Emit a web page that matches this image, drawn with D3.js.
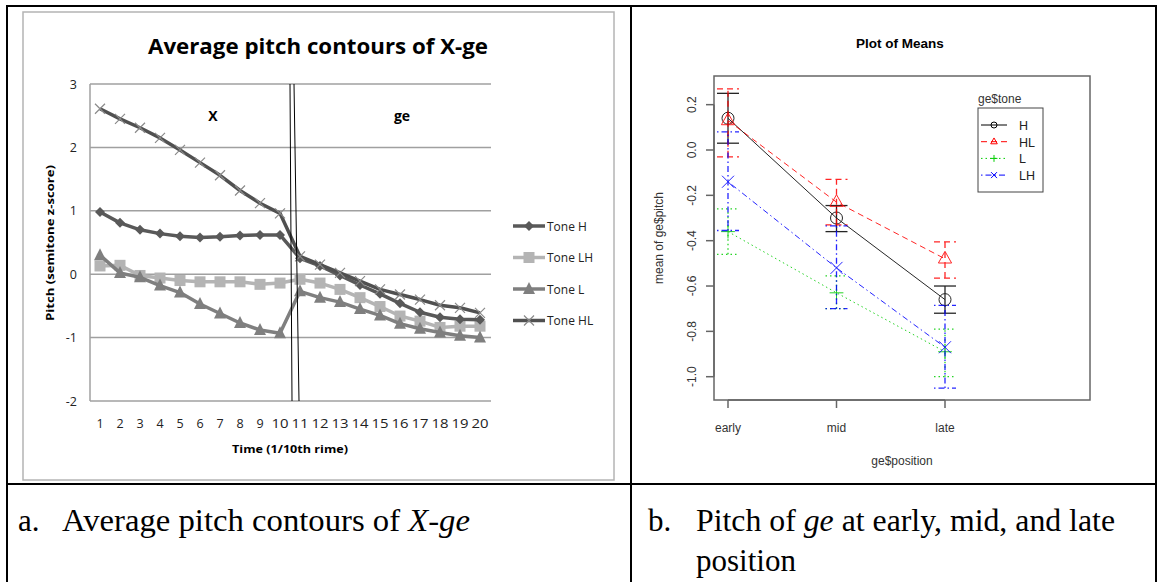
<!DOCTYPE html>
<html><head><meta charset="utf-8">
<script src="https://cdn.jsdelivr.net/npm/d3@7"></script>
<style>body{margin:0;background:#fff}svg{display:block}</style>
</head><body>
<svg id="c" width="1158" height="582"></svg>
<script>
// ---------- Panel a data ----------
const timePoints = [1,2,3,4,5,6,7,8,9,10,11,12,13,14,15,16,17,18,19,20];
const toneH  = [0.98,0.81,0.70,0.64,0.60,0.58,0.59,0.61,0.62,0.62,0.25,0.13,-0.02,-0.17,-0.31,-0.46,-0.60,-0.68,-0.71,-0.72];
const toneLH = [0.13,0.14,-0.02,-0.06,-0.10,-0.12,-0.12,-0.12,-0.16,-0.14,-0.08,-0.14,-0.24,-0.37,-0.51,-0.66,-0.74,-0.84,-0.82,-0.82];
const toneL  = [0.30,0.02,-0.05,-0.18,-0.29,-0.47,-0.62,-0.77,-0.88,-0.93,-0.27,-0.37,-0.44,-0.55,-0.65,-0.78,-0.86,-0.92,-0.97,-1.00];
const toneHL = [2.61,2.45,2.31,2.15,1.96,1.76,1.56,1.32,1.12,0.96,0.28,0.15,0.02,-0.11,-0.24,-0.32,-0.40,-0.49,-0.53,-0.61];
const yTicksA = [-2,-1,0,1,2,3];

// ---------- Panel b data ----------
const positions = ["early","mid","late"];
const tonesB = ["H","HL","L","LH"];
const meanH  = [0.14,-0.30,-0.66];
const loH    = [0.03,-0.36,-0.72];
const hiH    = [0.25,-0.245,-0.60];
const meanHL = [0.13,-0.23,-0.48];
const loHL   = [-0.03,-0.33,-0.565];
const hiHL   = [0.27,-0.13,-0.405];
const meanL  = [-0.36,-0.63,-0.89];
const loL    = [-0.46,-0.70,-1.00];
const hiL    = [-0.26,-0.555,-0.79];
const meanLH = [-0.14,-0.52,-0.87];
const loLH   = [-0.355,-0.70,-1.05];
const hiLH   = [0.08,-0.335,-0.685];
const yTicksB = [0.2,0.0,-0.2,-0.4,-0.6,-0.8,-1.0];

const svg = d3.select("#c");
svg.append("rect").attr("width",1158).attr("height",582).attr("fill","#fff");

// ---------- table frame ----------
const T = svg.append("g").attr("stroke","#000").attr("stroke-width",2).attr("fill","none");
T.append("line").attr("x1",7).attr("y1",6).attr("x2",1157).attr("y2",6);
T.append("line").attr("x1",7).attr("y1",5).attr("x2",7).attr("y2",582);
T.append("line").attr("x1",1156).attr("y1",5).attr("x2",1156).attr("y2",582);
T.append("line").attr("x1",631).attr("y1",5).attr("x2",631).attr("y2",582);
T.append("line").attr("x1",7).attr("y1",484).attr("x2",1157).attr("y2",484);

// captions
const cap = svg.append("g").attr("font-family","'Liberation Serif','Times New Roman',serif").attr("font-size",31).attr("fill","#000");
cap.append("text").attr("x",18).attr("y",531).text("a.");
const ca = cap.append("text").attr("x",62).attr("y",531).attr("textLength",408).attr("lengthAdjust","spacingAndGlyphs");
ca.append("tspan").text("Average pitch contours of ");
ca.append("tspan").attr("font-style","italic").text("X-ge");
cap.append("text").attr("x",648).attr("y",531).text("b.");
const cb = cap.append("text").attr("x",696).attr("y",531).attr("textLength",419).attr("lengthAdjust","spacingAndGlyphs");
cb.append("tspan").text("Pitch of ");
cb.append("tspan").attr("font-style","italic").text("ge");
cb.append("tspan").text(" at early, mid, and late");
cap.append("text").attr("x",696).attr("y",571).text("position");

// ---------- Panel a ----------
const A = svg.append("g");
A.append("rect").attr("x",23).attr("y",12).attr("width",591).attr("height",468)
  .attr("fill","none").attr("stroke","#b4b4b4").attr("stroke-width",1.5);
A.append("text").attr("x",318).attr("y",54).attr("text-anchor","middle")
  .attr("font-family","'Open Sans',Lato,sans-serif").attr("font-weight","bold").attr("font-size",21)
  .attr("textLength",340).attr("lengthAdjust","spacingAndGlyphs").attr("fill","#000")
  .text("Average pitch contours of X-ge");

const xA = d3.scalePoint().domain(timePoints).range([100,480]);
const yA = d3.scaleLinear().domain([-2,3]).range([401,84]);
const fontA = "'Open Sans',Lato,sans-serif";

// gridlines
A.append("g").selectAll("line").data(yTicksA).join("line")
  .attr("x1",90).attr("x2",491).attr("y1",d=>yA(d)).attr("y2",d=>yA(d))
  .attr("stroke","#a0a0a0").attr("stroke-width",1.5);
A.append("line").attr("x1",90).attr("x2",90).attr("y1",yA(3)).attr("y2",yA(-2))
  .attr("stroke","#a0a0a0").attr("stroke-width",1.5);

// y tick labels
A.append("g").selectAll("text").data(yTicksA).join("text")
  .attr("x",77).attr("y",d=>yA(d)+4.5).attr("text-anchor","end")
  .attr("font-family",fontA).attr("font-size",12.5).attr("fill","#222").text(d=>d);
// x tick labels
A.append("g").selectAll("text").data(timePoints).join("text")
  .attr("x",d=>xA(d)).attr("y",428).attr("text-anchor","middle")
  .attr("font-family",fontA).attr("font-size",12.5).attr("fill","#222")
  .attr("textLength",d=>d>=10?17:null).attr("lengthAdjust","spacingAndGlyphs").text(d=>d);
// axis titles
A.append("text").attr("x",290).attr("y",453).attr("text-anchor","middle")
  .attr("font-family",fontA).attr("font-weight","bold").attr("font-size",11)
  .attr("textLength",116).attr("lengthAdjust","spacingAndGlyphs").text("Time (1/10th rime)");
A.append("text").attr("transform","translate(54,243) rotate(-90)").attr("text-anchor","middle")
  .attr("font-family",fontA).attr("font-weight","bold").attr("font-size",11)
  .attr("textLength",156).attr("lengthAdjust","spacingAndGlyphs").text("Pitch (semitone z-score)");
// region labels
A.append("text").attr("x",213).attr("y",121).attr("text-anchor","middle")
  .attr("font-family",fontA).attr("font-weight","bold").attr("font-size",14).text("X");
A.append("text").attr("x",402).attr("y",121).attr("text-anchor","middle")
  .attr("font-family",fontA).attr("font-weight","bold").attr("font-size",14).text("ge");

const seriesA = [
  {name:"Tone H", vals:toneH, color:"#595959", marker:"diamond", mcolor:"#595959"},
  {name:"Tone LH", vals:toneLH, color:"#b4b4b4", marker:"square", mcolor:"#b4b4b4"},
  {name:"Tone L", vals:toneL, color:"#7f7f7f", marker:"triangle", mcolor:"#7f7f7f"},
  {name:"Tone HL", vals:toneHL, color:"#505050", marker:"x", mcolor:"#8a8a8a"}
];
const lineA = d3.line().x((d,i)=>xA(timePoints[i])).y(d=>yA(d));
function markerA(g, type, x, y, color, s){
  if(type==="diamond") g.append("path").attr("d",`M${x},${y-s}L${x+s},${y}L${x},${y+s}L${x-s},${y}Z`).attr("fill",color);
  else if(type==="square") g.append("rect").attr("x",x-s).attr("y",y-s).attr("width",2*s).attr("height",2*s).attr("fill",color);
  else if(type==="triangle") g.append("path").attr("d",`M${x},${y-s-1}L${x+s},${y+s-1}L${x-s},${y+s-1}Z`).attr("fill",color);
  else g.append("path").attr("d",`M${x-s},${y-s}L${x+s},${y+s}M${x-s},${y+s}L${x+s},${y-s}`).attr("stroke",color).attr("stroke-width",1.2).attr("fill","none");
}
const msize = {diamond:5, square:5.5, triangle:6, x:5};
// draw order: LH, L, H, HL
[1,2,0,3].forEach(k=>{
  const s = seriesA[k];
  const g = A.append("g");
  g.append("path").attr("d",lineA(s.vals)).attr("fill","none").attr("stroke",s.color).attr("stroke-width",3.5).attr("stroke-linejoin","round");
  s.vals.forEach((v,i)=>markerA(g,s.marker,xA(timePoints[i]),yA(v),s.mcolor,msize[s.marker]));
});

// vertical double boundary lines
A.append("line").attr("x1",290).attr("y1",yA(3)).attr("x2",292).attr("y2",yA(-2)).attr("stroke","#000").attr("stroke-width",1);
A.append("line").attr("x1",294).attr("y1",yA(3)).attr("x2",299).attr("y2",yA(-2)).attr("stroke","#000").attr("stroke-width",1);

// legend
const legA = A.append("g");
seriesA.forEach((s,i)=>{
  const y = 226 + i*31.5;
  legA.append("line").attr("x1",513).attr("x2",545).attr("y1",y).attr("y2",y).attr("stroke",s.color).attr("stroke-width",3.5);
  markerA(legA,s.marker,529,y,s.mcolor,msize[s.marker]);
  legA.append("text").attr("x",547).attr("y",y+4.5).attr("font-family",fontA).attr("font-size",12)
    .attr("fill","#222").text(s.name);
});

// ---------- Panel b ----------
const B = svg.append("g");
const fontB = "'Liberation Sans',Arial,sans-serif";
const xB = d3.scalePoint().domain(positions).range([728,945]);
const yB = d3.scaleLinear().domain([0,-1]).range([150,376.7]);
const L0=714, R0=1090, T0=76, B0=400;

B.append("text").attr("x",900).attr("y",48).attr("text-anchor","middle")
  .attr("font-family",fontB).attr("font-weight","bold").attr("font-size",13.5).text("Plot of Means");
B.append("rect").attr("x",L0).attr("y",T0).attr("width",R0-L0).attr("height",B0-T0)
  .attr("fill","none").attr("stroke","#666").attr("stroke-width",1.5);

// y axis
const gy = B.append("g").attr("transform",`translate(${L0},0)`);
gy.append("line").attr("x1",0).attr("x2",0).attr("y1",yB(0.2)).attr("y2",yB(-1.0)).attr("stroke","#666").attr("stroke-width",1.5);
gy.selectAll("line.t").data(yTicksB).join("line").attr("class","t")
  .attr("x1",-8).attr("x2",0).attr("y1",d=>yB(d)).attr("y2",d=>yB(d)).attr("stroke","#666").attr("stroke-width",1.5);
gy.selectAll("text").data(yTicksB).join("text")
  .attr("transform",d=>`translate(-18,${yB(d)}) rotate(-90)`).attr("text-anchor","middle")
  .attr("font-family",fontB).attr("font-size",12).attr("fill","#333").text(d=>d3.format(".1f")(d).replace("−","-"));
B.append("text").attr("transform",`translate(663,${(T0+B0)/2}) rotate(-90)`).attr("text-anchor","middle")
  .attr("font-family",fontB).attr("font-size",12).attr("fill","#333").text("mean of ge$pitch");

// x axis
const gx = B.append("g").attr("transform",`translate(0,${B0})`);
gx.append("line").attr("x1",xB("early")).attr("x2",xB("late")).attr("y1",0).attr("y2",0).attr("stroke","#666").attr("stroke-width",1.5);
gx.selectAll("line.t").data(positions).join("line").attr("class","t")
  .attr("x1",d=>xB(d)).attr("x2",d=>xB(d)).attr("y1",0).attr("y2",8).attr("stroke","#666").attr("stroke-width",1.5);
gx.selectAll("text").data(positions).join("text")
  .attr("x",d=>xB(d)).attr("y",32).attr("text-anchor","middle")
  .attr("font-family",fontB).attr("font-size",12).attr("fill","#333").text(d=>d);
B.append("text").attr("x",902).attr("y",465).attr("text-anchor","middle")
  .attr("font-family",fontB).attr("font-size",12).attr("fill","#333").text("ge$position");

const seriesB = [
  {name:"H", mean:meanH, lo:loH, hi:hiH, color:"#000", dash:null, pch:"circle"},
  {name:"HL", mean:meanHL, lo:loHL, hi:hiHL, color:"#ff0000", dash:"6,4", pch:"triangle"},
  {name:"L", mean:meanL, lo:loL, hi:hiL, color:"#00cd00", dash:"1.5,3", pch:"plus"},
  {name:"LH", mean:meanLH, lo:loLH, hi:hiLH, color:"#0000ff", dash:"1.5,3,6,3", pch:"x"}
];
function pchB(g,type,x,y,color,s){
  if(type==="circle") g.append("circle").attr("cx",x).attr("cy",y).attr("r",s).attr("fill","none").attr("stroke",color).attr("stroke-width",1);
  else if(type==="triangle") g.append("path").attr("d",`M${x},${y-s*1.25}L${x+s*1.1},${y+s*0.7}L${x-s*1.1},${y+s*0.7}Z`).attr("fill","none").attr("stroke",color).attr("stroke-width",1);
  else if(type==="plus") g.append("path").attr("d",`M${x-s*1.15},${y}L${x+s*1.15},${y}M${x},${y-s*1.15}L${x},${y+s*1.15}`).attr("fill","none").attr("stroke",color).attr("stroke-width",1);
  else g.append("path").attr("d",`M${x-s},${y-s}L${x+s},${y+s}M${x-s},${y+s}L${x+s},${y-s}`).attr("fill","none").attr("stroke",color).attr("stroke-width",1);
}
const lineB = d3.line().x((d,i)=>xB(positions[i])).y(d=>yB(d));
seriesB.forEach(s=>{
  const g = B.append("g").attr("opacity",0.85);
  g.append("path").attr("d",lineB(s.mean)).attr("fill","none").attr("stroke",s.color).attr("stroke-width",1)
    .attr("stroke-dasharray",s.dash);
  positions.forEach((p,i)=>{
    const x = xB(p);
    g.append("line").attr("x1",x).attr("x2",x).attr("y1",yB(s.lo[i])).attr("y2",yB(s.hi[i]))
      .attr("stroke",s.color).attr("stroke-width",1.3).attr("stroke-dasharray",s.dash);
    [s.lo[i],s.hi[i]].forEach(v=>{
      g.append("line").attr("x1",x-11).attr("x2",x+11).attr("y1",yB(v)).attr("y2",yB(v))
        .attr("stroke",s.color).attr("stroke-width",1.3).attr("stroke-dasharray",s.dash);
    });
    pchB(g,s.pch,x,yB(s.mean[i]),s.color,6);
  });
});

// legend b
const LG = B.append("g");
LG.append("text").attr("x",978).attr("y",103).attr("font-family",fontB).attr("font-size",12).attr("fill","#333").text("ge$tone");
LG.append("rect").attr("x",978).attr("y",108).attr("width",65).attr("height",84).attr("fill","none").attr("stroke","#444").attr("stroke-width",1);
seriesB.forEach((s,i)=>{
  const y = 125 + i*16.7;
  LG.append("line").attr("x1",981).attr("x2",1007).attr("y1",y).attr("y2",y).attr("stroke",s.color).attr("stroke-width",1).attr("stroke-dasharray",s.dash);
  pchB(LG,s.pch,994,y,s.color,3);
  LG.append("text").attr("x",1019).attr("y",y+5).attr("font-family",fontB).attr("font-size",12.5).attr("fill","#222").text(s.name);
});
</script>
</body></html>
